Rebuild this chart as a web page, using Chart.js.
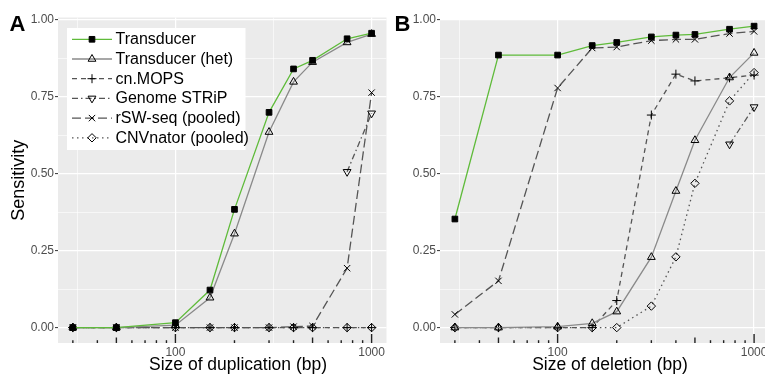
<!DOCTYPE html>
<html>
<head>
<meta charset="utf-8">
<script src="https://cdn.jsdelivr.net/npm/chart.js@4.4.1/dist/chart.umd.min.js"></script>
<style>
html, body { margin: 0; padding: 0; background: #fff; overflow: hidden; width: 765px; height: 375px; }
#wrap { position: relative; width: 765px; height: 375px; overflow: hidden; }
canvas { position: absolute; top: 0; }
#ca { left: 0; }
#cb { left: 385px; }
</style>
</head>
<body>
<div id="wrap">
	<canvas id="ca" width="392" height="375"></canvas>
	<canvas id="cb" width="390" height="375"></canvas>
</div>
<script>
// event sizes (bp), shared by both panels
var sizes = [30, 50, 100, 150, 200, 300, 400, 500, 750, 1000];
var seriesNames = ['Transducer', 'Transducer (het)', 'cn.MOPS', 'Genome STRiP', 'rSW-seq (pooled)', 'CNVnator (pooled)'];

// A: duplications
var dupTransducer = [0, 0, 0.016, 0.122, 0.384, 0.699, 0.840, 0.868, 0.938, 0.956];
var dupHet        = [0, 0, 0.008, 0.097, 0.305, 0.635, 0.798, 0.862, 0.926, 0.953];
var dupCnmops     = [0, 0, 0, 0, 0, 0, 0, 0, 0, 0];
var dupStrip      = [null, null, null, null, null, null, null, null, 0.506, 0.696];
var dupRsw        = [0, 0, 0, 0, 0, 0, 0.003, 0.005, 0.193, 0.763];
var dupCnvnator   = [0, 0, 0, 0, 0, 0, 0, 0, 0, 0];

// B: deletions
var delTransducer = [0.353, 0.886, 0.886, 0.917, 0.927, 0.945, 0.951, 0.953, 0.970, 0.980];
var delHet        = [0, 0, 0.003, 0.014, 0.052, 0.229, 0.444, 0.609, 0.813, 0.893];
var delCnmops     = [0, 0, 0, 0, 0.088, 0.691, 0.824, 0.802, 0.812, 0.821];
var delStrip      = [null, null, null, null, null, null, null, null, 0.596, 0.717];
var delRsw        = [0.043, 0.152, 0.779, 0.909, 0.912, 0.933, 0.937, 0.937, 0.956, 0.963];
var delCnvnator   = [0, 0, 0, 0, 0, 0.070, 0.230, 0.469, 0.737, 0.829];

var xMajor = [100, 1000];
var xMinor = [31.62, 316.2];
var yMajor = [0, 0.25, 0.5, 0.75, 1];
var yMinor = [0.125, 0.375, 0.625, 0.875];

var FONT = '"Liberation Sans", Arial, sans-serif';

var styles = [
	{ color: '#5fbb3a', dash: [], point: 'rect', rot: 0, r: 4, fill: '#000' },
	{ color: '#8a8a8a', dash: [], point: 'triangle', rot: 0, r: 4.5, fill: 'rgba(0,0,0,0)' },
	{ color: '#555555', dash: [5, 4], point: 'cross', rot: 0, r: 4.5, fill: 'rgba(0,0,0,0)' },
	{ color: '#555555', dash: [6, 3, 1.5, 3], point: 'triangle', rot: 180, r: 4.5, fill: 'rgba(0,0,0,0)' },
	{ color: '#555555', dash: [9, 4], point: 'crossRot', rot: 0, r: 4.5, fill: 'rgba(0,0,0,0)' },
	{ color: '#555555', dash: [1.5, 3.5], point: 'rectRot', rot: 0, r: 4.2, fill: 'rgba(0,0,0,0)' }
];

function makeDatasets(list) {
	var out = [];
	for (var i = 0; i < list.length; i++) {
		var st = styles[i];
		var pts = [];
		for (var j = 0; j < sizes.length; j++) {
			pts.push({ x: sizes[j], y: list[i][j] });
		}
		out.push({
			label: seriesNames[i],
			data: pts,
			borderColor: st.color,
			borderWidth: 1.3,
			borderDash: st.dash,
			pointStyle: st.point,
			pointRotation: st.rot,
			pointRadius: st.r,
			pointBackgroundColor: st.fill,
			pointBorderColor: '#000',
			pointBorderWidth: 1,
			fill: false,
			tension: 0,
			spanGaps: false
		});
	}
	return out;
}

function isMajorY(v) {
	return Math.abs(v * 4 - Math.round(v * 4)) < 1e-6;
}

var panelBg = {
	id: 'panelBg',
	beforeDraw: function (chart) {
		var a = chart.chartArea, c = chart.ctx;
		c.save();
		c.fillStyle = '#ebebeb';
		c.fillRect(a.left, a.top, a.right - a.left, a.bottom - a.top);
		c.restore();
	}
};

// log ticks along the bottom edge of the panel
var logTicks = {
	id: 'logTicks',
	afterDatasetsDraw: function (chart) {
		var s = chart.scales.x, a = chart.chartArea, c = chart.ctx;
		c.save();
		c.strokeStyle = '#222';
		c.lineWidth = 1.4;
		for (var d = 10; d <= 1000; d *= 10) {
			for (var m = 1; m < 10; m++) {
				var v = m * d;
				if (v < s.min || v > s.max) continue;
				var x = s.getPixelForValue(v);
				var len = m == 1 ? 9 : (m == 5 ? 5.5 : 2.8);
				c.beginPath();
				c.moveTo(x, a.bottom);
				c.lineTo(x, a.bottom - len);
				c.stroke();
			}
		}
		c.restore();
	}
};

var keyBox = {
	id: 'keyBox',
	afterDatasetsDraw: function (chart, args, o) {
		if (!o.display) return;
		var c = chart.ctx;
		var ds = chart.data.datasets;
		c.save();
		c.fillStyle = '#fff';
		c.fillRect(o.x, o.y, o.w, o.h);
		for (var i = 0; i < ds.length; i++) {
			var y = o.y + 11.3 + i * 19.7;
			var x0 = o.x + 5, x1 = o.x + 45;
			c.strokeStyle = ds[i].borderColor;
			c.lineWidth = ds[i].borderWidth;
			c.setLineDash(ds[i].borderDash);
			c.beginPath();
			c.moveTo(x0, y);
			c.lineTo(x1, y);
			c.stroke();
			c.setLineDash([]);
			c.fillStyle = ds[i].pointBackgroundColor;
			c.strokeStyle = '#000';
			c.lineWidth = 1;
			Chart.helpers.drawPoint(c, {
				pointStyle: ds[i].pointStyle,
				rotation: ds[i].pointRotation,
				radius: ds[i].pointRadius,
				borderWidth: 1
			}, (x0 + x1) / 2, y);
			c.fillStyle = '#000';
			c.font = '16px ' + FONT;
			c.textBaseline = 'middle';
			c.textAlign = 'left';
			c.fillText(ds[i].label, o.x + 48.5, y + 0.5);
		}
		c.restore();
	}
};

var panelText = {
	id: 'panelText',
	afterDraw: function (chart, args, o) {
		var c = chart.ctx;
		c.save();
		c.fillStyle = '#000';
		c.textAlign = 'center';
		c.textBaseline = 'alphabetic';
		c.font = 'bold 22px ' + FONT;
		c.fillText(o.letter, o.letterX, 31);
		c.font = '17.5px ' + FONT;
		c.fillText(o.title, o.titleX, 370);
		c.restore();
	}
};

function makeChart(el, cfg) {
	return new Chart(el, {
		type: 'line',
		data: { datasets: makeDatasets(cfg.series) },
		plugins: [panelBg, logTicks, keyBox, panelText],
		options: {
			responsive: false,
			animation: false,
			devicePixelRatio: 1,
			layout: { padding: { top: cfg.top, right: cfg.right, left: 0, bottom: 0 } },
			plugins: {
				legend: { display: false },
				tooltip: { enabled: false },
				keyBox: { display: cfg.legend, x: 67, y: 28, w: 178.5, h: 122 },
				panelText: { letter: cfg.letter, letterX: 17.5, title: cfg.title, titleX: cfg.titleX }
			},
			scales: {
				x: {
					type: 'logarithmic',
					min: 25.2,
					max: 1191,
					afterFit: function (s) { s.height = 32; },
					afterBuildTicks: function (s) {
						s.ticks = xMinor.concat(xMajor).sort(function (a, b) { return a - b; })
							.map(function (v) { return { value: v }; });
					},
					ticks: {
						autoSkip: false,
						maxRotation: 0,
						padding: 2,
						color: '#4d4d4d',
						font: { size: 12, family: FONT },
						callback: function (v) { return xMajor.indexOf(v) >= 0 ? String(v) : ''; }
					},
					grid: {
						color: '#fff',
						drawTicks: false,
						lineWidth: function (ctx) {
							return ctx.tick && xMajor.indexOf(ctx.tick.value) >= 0 ? 1.2 : 0.6;
						}
					},
					border: { display: false }
				},
				y: {
					min: -0.05,
					max: cfg.yMax,
					afterFit: function (s) { s.width = cfg.yWidth; },
					afterBuildTicks: function (s) {
						s.ticks = yMajor.concat(yMinor).sort(function (a, b) { return a - b; })
							.map(function (v) { return { value: v }; });
					},
					ticks: {
						padding: 1,
						color: '#4d4d4d',
						font: { size: 12, family: FONT },
						callback: function (v) { return isMajorY(v) ? v.toFixed(2) : ''; }
					},
					grid: {
						color: '#fff',
						drawTicks: true,
						tickLength: 3,
						tickWidth: 1,
						tickColor: function (ctx) {
							return ctx.tick && isMajorY(ctx.tick.value) ? '#333' : 'rgba(0,0,0,0)';
						},
						lineWidth: function (ctx) {
							return ctx.tick && isMajorY(ctx.tick.value) ? 1.2 : 0.6;
						}
					},
					border: { display: false },
					title: {
						display: cfg.yTitle,
						text: 'Sensitivity',
						color: '#000',
						font: { size: 18, family: FONT },
						padding: { top: 8, bottom: 0 }
					}
				}
			}
		}
	});
}

makeChart(document.getElementById('ca'), {
	series: [dupTransducer, dupHet, dupCnmops, dupStrip, dupRsw, dupCnvnator],
	top: 17.5, right: 4, yWidth: 58, yMax: 1.007, yTitle: true, legend: true,
	letter: 'A', title: 'Size of duplication (bp)', titleX: 238
});

makeChart(document.getElementById('cb'), {
	series: [delTransducer, delHet, delCnmops, delStrip, delRsw, delCnvnator],
	top: 20, right: 6, yWidth: 55, yMax: 1.0, yTitle: false, legend: false,
	letter: 'B', title: 'Size of deletion (bp)', titleX: 225
});
</script>
</body>
</html>
